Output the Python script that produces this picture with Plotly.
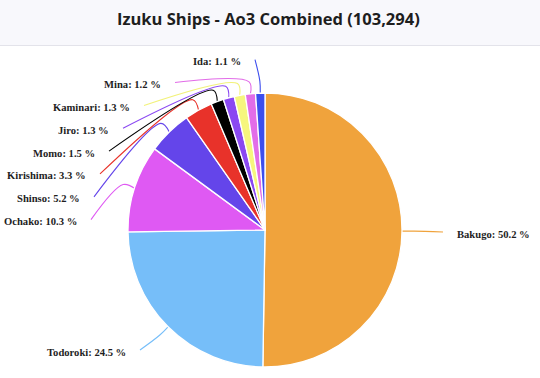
import math
import plotly.graph_objects as go

# ---------------- data ----------------
names = ["Bakugo", "Todoroki", "Ochako", "Shinso", "Kirishima",
         "Momo", "Jiro", "Kaminari", "Mina", "Ida"]
shares = [50.2, 24.5, 10.3, 5.2, 3.3, 1.5, 1.3, 1.3, 1.2, 1.1]
colors = ["#F0A33C", "#76BEF9", "#DF59F3", "#6445EA", "#E8322A",
          "#000000", "#8A48F2", "#F6F67E", "#E26DE8", "#3D4EEE"]
title_text = "Izuku Ships - Ao3 Combined (103,294)"

# ---------------- layout constants (pixels) ----------------
W, H = 540, 378
CX, CY, R = 265, 230, 137
# right end (x) of the left-side labels, ordered top -> bottom (Ida ... Ochako)
left_label_xend = [243, 163, 132, 111, 97, 88, 82, 79]
left_top_y, left_step = 61.7, 22.85
right_label_x = 455
todoroki_label = (128, 352)

fig = go.Figure()

# pie occupying a square domain centred at (CX, CY)
fig.add_trace(go.Pie(
    labels=names, values=shares, sort=False, direction="clockwise",
    rotation=0, textinfo="none", hoverinfo="label+percent",
    marker=dict(colors=colors, line=dict(color="white", width=1.3)),
    domain=dict(x=[(CX - R) / W, (CX + R) / W],
                y=[(H - CY - R) / H, (H - CY + R) / H]),
    showlegend=False,
))

total = sum(shares)
cum = 0.0
mids = []
for v in shares:
    mids.append(2 * math.pi * (cum + v / 2) / total)
    cum += v

# left labels stacked: small top slices first (Ida at top)
left_order = list(range(len(names) - 1, 1, -1))  # Ida, Mina, ..., Ochako
label_pos = {}
for k, idx in enumerate(left_order):
    label_pos[idx] = ("left", left_label_xend[k], left_top_y + k * left_step)
label_pos[0] = ("right", right_label_x, 234)
label_pos[1] = ("left", todoroki_label[0], todoroki_label[1])

annotations = []
for i, (n, v) in enumerate(zip(names, shares)):
    th = mids[i]
    ex, ey = CX + R * math.sin(th), CY - R * math.cos(th)
    bx, by = CX + (R + 12) * math.sin(th), CY - (R + 12) * math.cos(th)
    side, lx, ly = label_pos[i]
    if side == "left":
        ax, ay = lx + 12, ly - 2
    else:
        ax, ay = lx - 12, ly - 2
    fig.add_trace(go.Scatter(
        x=[ex, bx, ax], y=[ey, by, ay], mode="lines",
        line=dict(color=colors[i] if colors[i] != "#F6F67E" else "#F2F27A",
                  width=1.1, shape="spline", smoothing=1.0),
        hoverinfo="skip", showlegend=False, xaxis="x", yaxis="y"))
    annotations.append(dict(
        x=lx / W, y=1 - ly / H, xref="paper", yref="paper",
        text=f"<b>{n}: {v} %</b>", showarrow=False,
        xanchor="right" if side == "left" else "left", yanchor="middle",
        font=dict(family="Liberation Serif", size=10.6, color="#1E1E1E"),
    ))

annotations.append(dict(
    x=0.497, y=1 - 18 / H, xref="paper", yref="paper", text=title_text,
    showarrow=False, xanchor="center", yanchor="middle",
    font=dict(family="Open Sans", size=16.5, color="#1E1E1E", weight="bold"),
))

fig.update_layout(
    width=W, height=H, margin=dict(l=0, r=0, t=0, b=0),
    paper_bgcolor="white", plot_bgcolor="rgba(0,0,0,0)",
    xaxis=dict(range=[0, W], visible=False, fixedrange=True),
    yaxis=dict(range=[H, 0], visible=False, fixedrange=True),
    annotations=annotations,
    shapes=[
        dict(type="rect", xref="paper", yref="paper", x0=0, x1=1,
             y0=1 - 45 / H, y1=1, fillcolor="#F8F8FC", line=dict(width=0),
             layer="below"),
        dict(type="line", xref="paper", yref="paper", x0=0, x1=1,
             y0=1 - 45.5 / H, y1=1 - 45.5 / H,
             line=dict(color="#E3E3EA", width=1.2), layer="below"),
    ],
)

fig.write_html("out.html")
